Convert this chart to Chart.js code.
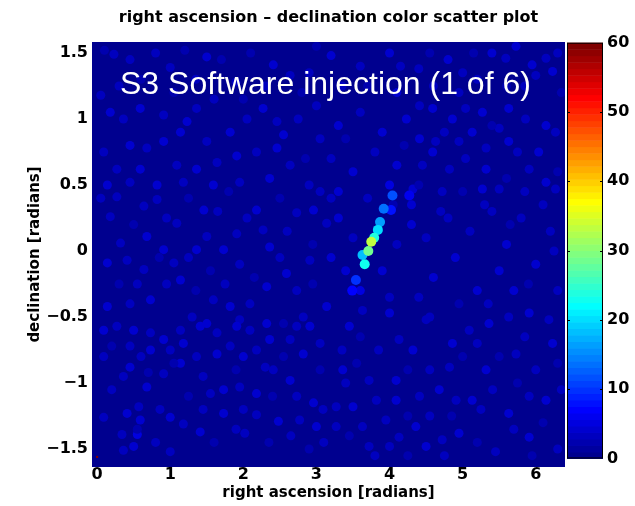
<!DOCTYPE html>
<html lang="en">
<head>
    <meta charset="UTF-8">
    <title>right ascension - declination color scatter plot</title>
    <script src="https://cdn.jsdelivr.net/npm/chart.js"></script>
    <style>
        html, body { margin: 0; padding: 0; background: #fff; }
        #wrap { width: 635px; height: 506px; }
    </style>
</head>
<body>
    <div id="wrap"><canvas id="skyChart" width="635" height="506"></canvas></div>

    <script>
        // tick positions / labels
        const raTicks = [0, 1, 2, 3, 4, 5, 6];
        const raTickLabels = ['0', '1', '2', '3', '4', '5', '6'];
        const decTicks = [1.5, 1, 0.5, 0, -0.5, -1, -1.5];
        const decTickLabels = ['1.5', '1', '0.5', '0', '\u22120.5', '\u22121', '\u22121.5'];
        const cbTicks = [0, 10, 20, 30, 40, 50, 60];
        const cbTickLabels = ['0', '10', '20', '30', '40', '50', '60'];

        // injection streak (ra, dec, colour value)
        const streakRa  = [4.27, 4.02, 3.49, 3.54, 4.04, 3.92, 3.87, 3.63, 3.84, 3.66, 3.79, 3.71, 3.75];
        const streakDec = [0.42, 0.31, -0.30, -0.22, 0.42, 0.32, 0.22, -0.03, 0.16, -0.10, 0.10, 0.00, 0.07];
        const streakVal = [6, 8, 7, 10, 12, 14, 16, 18, 20, 23, 24, 29, 33];

        // colour scale reference point (bottom-left corner)
        const refRa = [0];
        const refDec = [-1.56];
        const refVal = [60];

        // faint background triggers
        const bgRa = [
            0.18, 0.64, 0.68, 0.32, 0.14, 0.41, 0.64, 0.91, 1.05, 1.14, 1.36, 1.50, 1.73, 1.91, 2.18, 2.27, 2.36, 2.73, 2.96, 2.91,
            2.73, 2.59, 3.14, 0.73, 0.45, 0.14, 1.59, 1.82, 2.09, 2.32, 2.82, 3.14, 1.09, 1.46, 0.82, 0.27, 1.50, 1.95,
            3.45, 3.63, 4.00, 4.13, 4.32, 4.50, 4.86, 5.09, 5.36, 5.63, 5.91, 6.18, 6.23, 5.73, 6.00, 5.32, 4.82, 4.09, 3.72, 3.36,
            3.27, 3.50, 3.82, 4.09, 4.41, 4.68, 4.91, 5.13, 5.41, 5.63, 5.91, 6.14, 3.72, 4.00, 4.50, 4.72, 4.95, 5.45, 5.91, 4.13,
            4.36, 3.63, 3.27,
            0.09, 0.27, 0.50, 0.73, 0.91, 1.14, 1.41, 1.64, 1.91, 2.09, 2.32, 2.73, 2.91, 0.45, 0.73, 1.00, 1.18, 1.36, 1.64, 1.82,
            2.00, 2.18, 2.36, 2.64, 2.82, 0.09, 0.45, 0.36, 0.68, 0.91, 1.14, 1.55, 1.73, 1.95, 2.18, 2.41, 2.64, 2.73, 2.96, 3.09,
            0.09, 0.41, 0.57, 0.59, 0.86, 1.00, 1.18, 1.73, 2.18, 2.48, 2.77, 3.00, 0.34, 0.55, 2.02, 1.41, 0.36, 0.50, 1.00,
            5.73, 5.59, 5.95, 6.14, 6.23, 6.00, 5.63, 5.86, 6.14, 6.27, 6.04, 5.91, 6.14, 6.27, 5.63, 5.50, 5.27, 5.04, 4.86, 4.95,
            5.13, 5.32, 4.59, 4.41, 4.23, 4.63, 4.41, 5.04, 5.32, 5.50, 5.27, 4.72, 4.32, 4.82, 4.59,
            0.23, 1.50, 1.00, 2.41, 2.64, 0.05, 0.18, 0.36, 0.59, 0.91, 1.23, 1.36, 1.14, 1.50, 1.82, 2.05, 2.27, 2.46, 2.55, 0.09,
            0.45, 0.68, 0.91, 0.27, 0.59, 1.09, 1.36, 1.64, 1.91, 2.18, 2.46, 2.64, 0.14, 0.45, 0.82, 1.18, 1.59, 1.95, 2.36,
            3.00, 3.30, 3.60, 3.90, 3.20, 3.50, 3.80, 4.10, 2.90, 3.30, 3.70, 4.00, 4.30, 2.90, 3.20, 3.60, 4.00, 4.40, 4.80, 5.20,
            5.40, 4.60, 4.10, 3.30, 3.50, 3.40, 3.60, 3.90, 4.10, 4.30, 4.00, 3.20, 4.50, 4.60, 4.80, 4.90, 5.10, 5.20, 4.40,
            5.40, 5.60, 5.80, 6.00, 6.20, 5.70, 6.30, 5.50, 6.10,
            0.10, 0.45, 0.60, 0.80, 1.20, 1.35, 1.70, 1.90, 2.10, 2.30, 2.80, 0.30, 1.05, 1.60, 2.00,
            0.05, 0.50, 0.95, 1.25, 1.65, 1.80, 2.05, 2.50, 2.60, 2.95, 3.05, 0.85, 1.25, 1.55, 1.95, 2.15, 2.50, 0.30, 0.95, 1.35,
            1.75, 2.95, 0.55,
            0.20, 0.60, 1.05, 1.45, 1.90, 2.30, 2.55, 3.05, 3.05, 0.20, 0.55, 0.80, 1.25, 1.45, 1.60, 1.90, 2.35, 2.65, 2.90, 3.10,
            2.40, 2.00, 0.70, 1.30, 2.55,
            3.35, 3.60, 3.85, 4.25, 4.55, 5.00, 5.20, 5.50, 5.85, 6.30, 6.35, 5.75, 5.25, 4.85, 4.55, 4.25, 3.95, 3.45, 3.80, 4.25,
            4.75, 5.20, 5.70, 6.10, 6.30, 5.95, 3.40, 3.55,
            4.40, 4.70, 5.00, 5.30, 5.60, 5.85, 6.30, 5.75, 5.40, 4.75, 4.20, 4.45, 3.40, 3.05, 2.85, 2.75, 4.05, 4.55, 4.95, 5.35,
            5.90, 6.25, 5.65, 3.20,
            4.15, 4.55, 5.00, 5.15, 5.85, 6.35, 6.30, 5.60, 4.95, 3.70, 3.35, 3.00
        ];
        const bgDec = [
            0.26, 0.34, 0.11, 0.06, -0.09, -0.07, -0.14, 0.01, -0.09, -0.22, 0.01, 0.11, 0.01, 0.13, 0.31, 0.16, 0.03, 0.29, 0.31, -0.07,
            -0.30, -0.17, 0.21, -0.37, -0.40, -0.42, -0.37, -0.42, -0.40, -0.27, -0.50, -0.42, 0.21, 0.31, 0.39, 0.41, -0.55, -0.52,
            -0.57, -0.45, -0.47, -0.67, -0.75, -0.52, -0.70, -0.60, -0.55, -0.50, -0.47, -0.52, -0.70, -0.78, -0.90, -0.90, -0.88, -0.98, -0.98, -0.90,
            -1.18, -1.18, -1.13, -1.13, -1.10, -1.05, -1.13, -1.13, -1.05, -1.23, -1.10, -1.13, -1.48, -1.48, -1.48, -1.43, -1.38, -1.52, -1.41, -1.41,
            -1.33, -1.33, -1.33,
            -0.60, -0.57, -0.60, -0.62, -0.67, -0.60, -0.57, -0.62, -0.57, -0.60, -0.55, -0.57, -0.57, -0.72, -0.75, -0.75, -0.70, -0.80, -0.78, -0.72,
            -0.80, -0.75, -0.67, -0.67, -0.78, -0.80, -0.88, -0.95, -1.03, -0.93, -0.85, -1.08, -1.05, -1.03, -1.08, -0.90, -0.98, -1.10, -1.15, -1.20,
            -1.26, -1.23, -1.18, -1.28, -1.20, -1.26, -1.31, -1.23, -1.24, -1.29, -1.28, -1.33, -1.39, -1.39, -1.38, -1.37, -1.51, -1.48, -1.52,
            1.55, 1.46, 1.41, 1.46, 1.36, 1.33, 1.08, 1.00, 0.95, 0.90, 0.75, 0.62, 0.52, 0.47, 0.83, 0.93, 1.05, 1.08, 1.00, 0.83,
            0.90, 0.78, 1.08, 1.10, 1.00, 0.83, 0.85, 0.70, 0.62, 0.47, 0.47, 0.45, 0.47, 0.62, 0.75,
            1.49, 1.47, 1.39, 1.41, 1.33, 1.18, 1.05, 1.00, 1.08, 1.03, 0.98, 1.08, 0.90, 0.83, 0.90, 1.00, 1.08, 0.98, 0.88, 0.75,
            0.80, 0.78, 0.83, 0.62, 0.62, 0.65, 0.62, 0.67, 0.72, 0.75, 0.78, 0.65, 0.50, 0.52, 0.50, 0.52, 0.50, 0.52, 0.55,
            1.10, 0.95, 1.05, 0.90, 0.70, 0.60, 0.75, 0.65, 0.50, 0.45, 0.40, 0.50, 0.35, 1.35, 1.48, 1.40, 1.50, 1.38, 1.45, 1.30,
            1.50, 1.25, 1.20, 0.25, 0.10, -0.15, -0.30, -0.15, 0.05, 0.20, -0.35, -0.05, 0.10, -0.20, 0.25, -0.05, 0.15, -0.30, -0.35,
            0.30, 0.05, 0.25, -0.10, 0.15, -0.30, -0.30, -0.15, 0.35,
            1.52, 1.45, 1.30, 1.50, 1.52, 1.30, 1.45, 1.28, 1.50, 1.25, 1.20, 1.25, 1.20, 1.15, 1.15,
            0.40, 0.20, 0.25, 0.40, 0.30, 0.45, 0.25, 0.40, 0.15, 0.05, 0.45, -0.05, -0.05, -0.15, -0.10, -0.20, -0.05, -0.25, -0.25, -0.30,
            -0.25, -0.25, -0.25,
            -0.72, -0.80, -0.85, -0.95, -0.90, -0.88, -0.80, -0.70, -0.90, -1.05, -1.35, -1.45, -1.10, -1.20, -1.45, -1.35, -1.45, -1.40, -1.50, -1.45,
            -1.10, -1.20, -0.92, -0.50, -0.55,
            -0.75, -0.65, -0.75, -0.90, -0.90, -0.80, -0.70, -0.80, -0.65, -0.85, -1.05, -1.00, -1.20, -1.25, -1.25, -1.25, -1.28, -1.40, -1.55, -1.55,
            -1.55, -1.45, -1.35, -1.30, -1.50, -1.55, -1.00, -0.85,
            0.50, 0.30, 0.45, 0.35, 0.55, 0.45, 0.60, 0.75, 0.95, 0.90, 0.80, 0.65, 0.85, 0.85, 0.70, 1.00, 0.35, -0.50, -0.40, -0.40,
            -0.25, 0.00, 0.20, 0.40,
            1.40, 1.50, 1.35, 1.50, 1.25, 1.20, 1.50, 1.25, 1.20, 1.25, 1.25, 1.55
        ];
        const bgVal = [
            3, 3, 4, 3, 4, 3, 3, 4, 3, 4, 4, 3, 4, 3, 4, 3, 4, 3, 4, 3,
            3, 4, 3, 4, 3, 4, 3, 4, 3, 4, 3, 4, 3, 4, 3, 3, 4, 3,
            4, 3, 4, 3, 4, 3, 4, 3, 4, 3, 4, 3, 4, 3, 3, 4, 3, 4, 3, 4,
            3, 4, 3, 4, 3, 4, 3, 4, 3, 4, 3, 4, 3, 3, 4, 3, 4, 3, 4, 3,
            4, 3, 3,
            4, 3, 4, 3, 4, 3, 4, 3, 4, 3, 4, 3, 4, 3, 4, 3, 4, 3, 4, 3,
            4, 3, 4, 3, 4, 3, 4, 3, 4, 3, 4, 3, 4, 3, 4, 3, 4, 3, 4, 3,
            3, 4, 3, 4, 3, 4, 3, 4, 3, 4, 3, 4, 3, 5, 3, 4, 3, 4, 3,
            4, 3, 4, 3, 4, 3, 4, 3, 4, 3, 4, 3, 4, 3, 4, 3, 4, 3, 4, 3,
            4, 3, 4, 3, 4, 3, 4, 3, 4, 3, 4, 3, 4, 3, 4,
            3, 4, 3, 4, 3, 3, 4, 3, 4, 3, 4, 3, 4, 3, 4, 3, 4, 3, 4, 3,
            4, 3, 4, 3, 4, 3, 4, 3, 4, 3, 4, 3, 4, 3, 4, 3, 4, 3, 4,
            3, 4, 3, 4, 3, 4, 3, 4, 3, 4, 3, 5, 4, 3, 4, 3, 4, 3, 4, 3,
            4, 3, 4, 4, 3, 4, 5, 4, 3, 4, 3, 4, 3, 4, 3, 4, 3, 4, 3,
            3, 4, 3, 4, 3, 4, 3, 4, 3,
            2, 3, 2, 3, 2, 3, 2, 3, 2, 3, 2, 3, 2, 3, 2,
            3, 2, 3, 2, 3, 2, 3, 2, 3, 2, 3, 2, 3, 2, 3, 2, 3, 2, 3, 2,
            3, 2, 3,
            2, 3, 2, 3, 2, 3, 2, 3, 2, 3, 2, 3, 2, 3, 2, 3, 2, 3, 2, 3,
            2, 3, 2, 3, 2,
            3, 2, 3, 2, 3, 2, 3, 2, 3, 2, 3, 2, 3, 2, 3, 2, 3, 2, 3, 2,
            3, 2, 3, 2, 3, 2, 3, 2,
            2, 3, 2, 3, 2, 3, 2, 3, 2, 3, 2, 3, 2, 3, 2, 3, 2, 3, 2, 3,
            2, 3, 2, 3,
            3, 2, 3, 2, 3, 2, 3, 2, 3, 2, 3, 2
        ];

        const cMax = 60;

        // MATLAB style jet(64)
        function jet(v) {
            const t = Math.min(Math.max(v / cMax, 0), 1);
            const idx = Math.min(63, Math.floor(t * 64));
            const x = (idx + 1) / 64;
            const c = a => Math.round(255 * Math.min(1, Math.max(0, a)));
            const r = Math.min(4 * x - 1.5, -4 * x + 4.5);
            const g = Math.min(4 * x - 0.5, -4 * x + 3.5);
            const b = Math.min(4 * x + 0.5, -4 * x + 2.5);
            return 'rgb(' + c(r) + ',' + c(g) + ',' + c(b) + ')';
        }

        function toPoints(ra, dec, val) {
            return ra.map((r, i) => ({ x: r, y: dec[i], v: val[i] }));
        }

        // scales should not reserve room for half labels
        function noPad(s) {
            s.paddingTop = 0; s.paddingBottom = 0;
            s.paddingLeft = 0; s.paddingRight = 0;
        }

        const figText = {
            id: 'figText',
            beforeDatasetsDraw(chart) {
                const { ctx, chartArea: a } = chart;
                ctx.save();
                ctx.fillStyle = jet(0);
                ctx.fillRect(a.left, a.top, a.right - a.left, a.bottom - a.top);
                ctx.restore();
            },
            afterDatasetsDraw(chart) {
                const { ctx } = chart;
                ctx.save();
                ctx.fillStyle = '#ffffff';
                ctx.font = '32px "Liberation Sans", Arial, sans-serif';
                ctx.textAlign = 'left';
                ctx.textBaseline = 'alphabetic';
                ctx.fillText('S3 Software injection (1 of 6)', 120, 94);
                ctx.restore();
            },
            afterDraw(chart) {
                const { ctx, chartArea: a } = chart;
                const cb = chart.scales.cb;
                ctx.save();
                // title
                ctx.fillStyle = '#000';
                ctx.font = 'bold 16px "DejaVu Sans", sans-serif';
                ctx.textAlign = 'center';
                ctx.textBaseline = 'middle';
                ctx.fillText('right ascension \u2013 declination color scatter plot', (a.left + a.right) / 2, 18);

                // colour bar
                const x0 = cb.left + 2, w = 36;
                const yTop = cb.getPixelForValue(cMax), yBot = cb.getPixelForValue(0);
                const band = (yBot - yTop) / 64;
                for (let i = 0; i < 64; i++) {
                    ctx.fillStyle = jet((i + 0.5) * cMax / 64);
                    ctx.fillRect(x0, yBot - (i + 1) * band, w, band + 0.5);
                }
                ctx.strokeStyle = '#000';
                ctx.lineWidth = 1;
                ctx.strokeRect(x0 + 0.5, yTop + 0.5, w - 1, yBot - yTop - 1);
                cbTicks.forEach(v => {
                    if (v === 0 || v === cMax) return;
                    const y = Math.round(cb.getPixelForValue(v)) + 0.5;
                    ctx.beginPath();
                    ctx.moveTo(x0, y); ctx.lineTo(x0 + 3, y);
                    ctx.moveTo(x0 + w - 3, y); ctx.lineTo(x0 + w, y);
                    ctx.stroke();
                });
                ctx.restore();
            }
        };

        const tickFont = { family: '"DejaVu Sans", sans-serif', size: 16, weight: 'bold' };
        const labelFont = { family: '"DejaVu Sans", sans-serif', size: 15, weight: 'bold' };

        new Chart(document.getElementById('skyChart'), {
            type: 'scatter',
            data: {
                datasets: [
                    {
                        data: toPoints(refRa, refDec, refVal),
                        pointStyle: 'rect',
                        pointRadius: 1.5,
                        borderWidth: 0,
                        backgroundColor: ctx => jet(ctx.raw ? ctx.raw.v : 0)
                    },
                    {
                        data: toPoints(streakRa, streakDec, streakVal),
                        pointRadius: 5,
                        borderWidth: 0,
                        backgroundColor: ctx => jet(ctx.raw ? ctx.raw.v : 0)
                    },
                    {
                        data: toPoints(bgRa, bgDec, bgVal),
                        pointRadius: 4.5,
                        borderWidth: 0,
                        backgroundColor: ctx => jet(ctx.raw ? ctx.raw.v : 0)
                    }
                ]
            },
            options: {
                responsive: false,
                animation: false,
                layout: { padding: { top: 42, left: 0, right: 0, bottom: 0 } },
                plugins: {
                    legend: { display: false },
                    tooltip: { enabled: false },
                    title: { display: false }
                },
                scales: {
                    x: {
                        type: 'linear',
                        min: -0.07,
                        max: 6.40,
                        grid: { display: false, drawTicks: false },
                        border: { display: false },
                        afterBuildTicks: s => { s.ticks = raTicks.map(v => ({ value: v })); },
                        afterFit: s => { s.height = 39; noPad(s); },
                        ticks: {
                            padding: -2,
                            color: '#000',
                            font: tickFont,
                            maxRotation: 0,
                            callback: (v) => raTickLabels[raTicks.indexOf(v)]
                        },
                        title: {
                            display: true,
                            text: 'right ascension [radians]',
                            color: '#000',
                            font: labelFont,
                            padding: { top: 0, bottom: 4 }
                        }
                    },
                    y: {
                        type: 'linear',
                        min: -1.636,
                        max: 1.583,
                        grid: { display: false, drawTicks: false },
                        border: { display: false },
                        afterBuildTicks: s => { s.ticks = decTicks.map(v => ({ value: v })); },
                        afterFit: s => { s.width = 92; noPad(s); },
                        ticks: {
                            padding: 4,
                            color: '#000',
                            font: tickFont,
                            callback: (v) => decTickLabels[decTicks.indexOf(v)]
                        },
                        title: {
                            display: true,
                            text: 'declination [radians]',
                            color: '#000',
                            font: labelFont,
                            padding: { top: 26, bottom: 0 }
                        }
                    },
                    cb: {
                        type: 'linear',
                        position: 'right',
                        min: -1.23,
                        max: 60.1,
                        grid: { display: false, drawTicks: false },
                        border: { display: false },
                        afterBuildTicks: s => { s.ticks = cbTicks.map(v => ({ value: v })); },
                        afterFit: s => { s.width = 70; noPad(s); },
                        ticks: {
                            padding: 42,
                            color: '#000',
                            font: tickFont,
                            callback: (v) => cbTickLabels[cbTicks.indexOf(v)]
                        }
                    }
                }
            },
            plugins: [figText]
        });
    </script>
</body>
</html>
